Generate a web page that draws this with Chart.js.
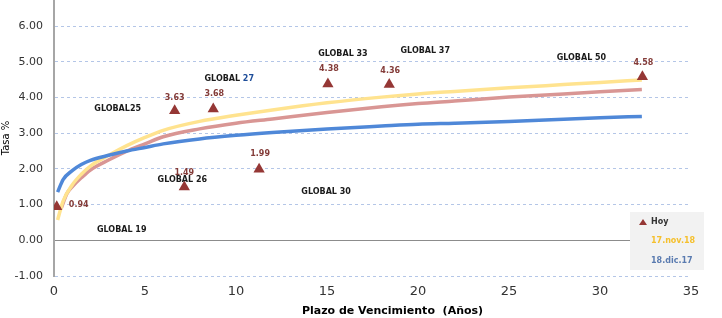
<!DOCTYPE html>
<html>
<head>
<meta charset="utf-8">
<script src="https://cdn.jsdelivr.net/npm/chart.js@4.4.0/dist/chart.umd.min.js"></script>
<style>
html, body { margin: 0; padding: 0; background: #fff; }
#wrap { width: 722px; height: 318px; }
</style>
</head>
<body>
<div id="wrap"><canvas id="curva"></canvas></div>
<script>
// bonos (Hoy)
const bonos = ['GLOBAL 19', 'GLOBAL25', 'GLOBAL 26', 'GLOBAL 27', 'GLOBAL 30', 'GLOBAL 33', 'GLOBAL 37', 'GLOBAL 50'];
const plazosHoy = [0.15, 6.63, 7.16, 8.75, 11.27, 15.05, 18.42, 32.33];
const tasasHoy = [0.94, 3.63, 1.49, 3.68, 1.99, 4.38, 4.36, 4.58];

// curva 17.nov.18
const plazosNov18 = [0.2, 0.5, 1, 1.5, 2, 3, 4, 5, 6, 8, 10, 12, 15, 18, 20, 22, 25, 28, 30, 32.3];
const tasasNov18 = [0.57, 1.1, 1.55, 1.85, 2.08, 2.38, 2.65, 2.88, 3.08, 3.33, 3.5, 3.65, 3.85, 4.01, 4.1, 4.17, 4.27, 4.36, 4.42, 4.49];

// curva intermedia (sin leyenda)
const plazosMedia = [0.4, 0.7, 1, 1.5, 2, 3, 4, 5, 6, 8, 10, 12, 15, 18, 20, 22, 25, 28, 30, 32.3];
const tasasMedia = [0.9, 1.3, 1.5, 1.75, 1.97, 2.25, 2.5, 2.7, 2.9, 3.12, 3.28, 3.4, 3.58, 3.74, 3.83, 3.9, 4.01, 4.1, 4.16, 4.22];

// curva 18.dic.17
const plazosDic17 = [0.2, 0.5, 1, 1.5, 2, 3, 4, 5, 6, 8, 10, 12, 15, 18, 20, 22, 25, 28, 30, 32.3];
const tasasDic17 = [1.35, 1.7, 1.95, 2.12, 2.24, 2.38, 2.5, 2.6, 2.7, 2.84, 2.94, 3.02, 3.12, 3.2, 3.25, 3.28, 3.33, 3.39, 3.43, 3.47];

const leyenda = ['Hoy', '17.nov.18', '18.dic.17'];

// desplazamientos de etiquetas respecto al triángulo (px)
const nombreDx = [65, -57, -2, 16, 67, 15, 36, -61];
const nombreDy = [23, -2, -7, -30, 23, -30, -34, -19];
const valorDx = [22, 0, 0, 1, 1, 1, 1, 1];
const valorDy = [-2, -13, -14, -15, -15, -15, -14, -14];

const ROJO = '#953735';
const FUENTE = '"DejaVu Sans", Verdana, sans-serif';

function puntos(xs, ys) {
    return xs.map((x, i) => ({ x: x, y: ys[i] }));
}

const etiquetas = {
    id: 'etiquetas',
    afterDatasetsDraw(chart) {
        const ctx = chart.ctx;
        const meta = chart.getDatasetMeta(0);
        ctx.save();
        ctx.textBaseline = 'middle';
        ctx.font = 'bold 8px ' + FUENTE;
        meta.data.forEach((pt, i) => {
            // valor
            ctx.textAlign = 'center';
            ctx.fillStyle = '#843c39';
            ctx.fillText(tasasHoy[i].toFixed(2), pt.x + valorDx[i], pt.y + valorDy[i]);
            // nombre
            const nombre = bonos[i];
            const cx = pt.x + nombreDx[i];
            const cy = pt.y + nombreDy[i];
            if (nombre === 'GLOBAL 27') {
                const a = 'GLOBAL ', b = '27';
                const w = ctx.measureText(a + b).width;
                ctx.textAlign = 'left';
                ctx.fillStyle = '#1a1a1a';
                ctx.fillText(a, cx - w / 2, cy);
                ctx.fillStyle = '#1f4e9a';
                ctx.fillText(b, cx - w / 2 + ctx.measureText(a).width, cy);
            } else {
                ctx.textAlign = 'center';
                ctx.fillStyle = '#1a1a1a';
                ctx.fillText(nombre, cx, cy);
            }
        });

        // titulo eje X
        const area = chart.chartArea;
        ctx.textAlign = 'center';
        ctx.fillStyle = '#000';
        ctx.font = 'bold 11px ' + FUENTE;
        ctx.fillText('Plazo de Vencimiento  (Años)', (area.left + area.right) / 2 + 20, 311);

        // leyenda
        const lx = 630, ly = 212;
        ctx.fillStyle = '#f2f2f2';
        ctx.fillRect(lx, ly, 74, 58);
        ctx.fillStyle = ROJO;
        ctx.beginPath();
        ctx.moveTo(lx + 13, ly + 7);
        ctx.lineTo(lx + 17, ly + 13);
        ctx.lineTo(lx + 9, ly + 13);
        ctx.closePath();
        ctx.fill();
        ctx.textAlign = 'left';
        ctx.font = 'bold 8px ' + FUENTE;
        ctx.fillStyle = '#333';
        ctx.fillText(leyenda[0], lx + 21, ly + 10);
        ctx.fillStyle = '#f5c02e';
        ctx.fillText(leyenda[1], lx + 21, ly + 29);
        ctx.fillStyle = '#5a7bb0';
        ctx.fillText(leyenda[2], lx + 21, ly + 49);
        ctx.restore();
    }
};

const ctx = document.getElementById('curva').getContext('2d');
new Chart(ctx, {
    type: 'scatter',
    data: {
        datasets: [
            {
                label: leyenda[0],
                data: puntos(plazosHoy, tasasHoy),
                pointStyle: 'triangle',
                pointRadius: 6.5,
                backgroundColor: ROJO,
                borderColor: ROJO,
                borderWidth: 0,
                order: 0
            },
            {
                label: leyenda[2],
                type: 'line',
                data: puntos(plazosDic17, tasasDic17),
                borderColor: '#4f88d8',
                borderWidth: 3.5,
                pointRadius: 0,
                cubicInterpolationMode: 'monotone',
                order: 1
            },
            {
                label: leyenda[1],
                type: 'line',
                data: puntos(plazosNov18, tasasNov18),
                borderColor: '#ffe38f',
                borderWidth: 3.5,
                pointRadius: 0,
                cubicInterpolationMode: 'monotone',
                order: 2
            },
            {
                label: '',
                type: 'line',
                data: puntos(plazosMedia, tasasMedia),
                borderColor: '#d99694',
                borderWidth: 3.5,
                pointRadius: 0,
                cubicInterpolationMode: 'monotone',
                order: 3
            }
        ]
    },
    options: {
        responsive: true,
        maintainAspectRatio: false,
        animation: false,
        layout: { autoPadding: false, padding: { left: 0, right: 31, top: 0, bottom: 0 } },
        plugins: {
            legend: { display: false },
            tooltip: { enabled: false }
        },
        scales: {
            x: {
                type: 'linear',
                min: 0,
                max: 35,
                ticks: {
                    stepSize: 5,
                    padding: 8,
                    color: '#333',
                    font: { family: FUENTE, size: 13 }
                },
                grid: { display: false, drawTicks: false },
                border: { display: false },
                afterFit(scale) { scale.height = 42; }
            },
            y: {
                min: -1,
                max: 6.73,
                ticks: {
                    stepSize: 1,
                    padding: 11,
                    color: '#333',
                    font: { family: FUENTE, size: 11 },
                    callback: v => Number(v).toFixed(2)
                },
                afterBuildTicks(scale) {
                    scale.ticks = scale.ticks.filter(t => Number.isInteger(t.value));
                },
                grid: {
                    drawTicks: false,
                    color: c => (c.tick && c.tick.value === 0) ? '#8c8c8c' : '#b4c6e7',
                    lineWidth: 1
                },
                border: {
                    display: true,
                    color: '#a6a6a6',
                    width: 2,
                    dash: c => (c.tick && c.tick.value === 0) ? [] : [3, 3]
                },
                title: {
                    display: true,
                    text: 'Tasa %',
                    color: '#000',
                    padding: 0,
                    font: { family: FUENTE, size: 10 }
                },
                afterFit(scale) {
                    scale.width = 54;
                    scale.paddingTop = 0;
                    scale.paddingBottom = 0;
                }
            }
        }
    },
    plugins: [etiquetas]
});
</script>
</body>
</html>
